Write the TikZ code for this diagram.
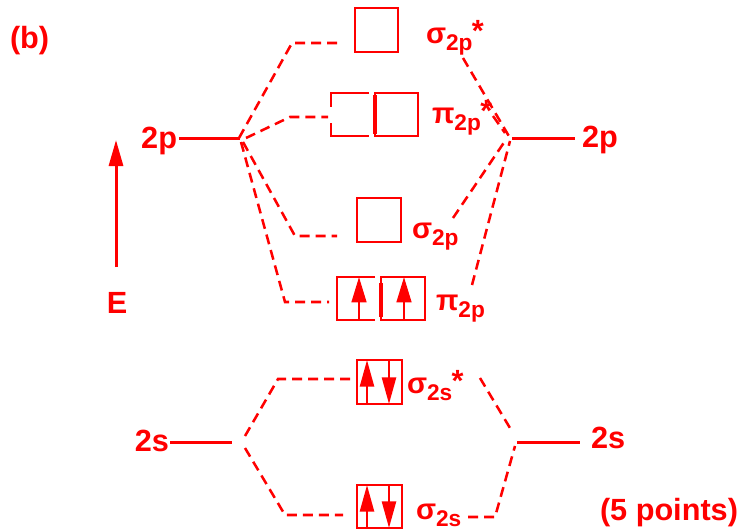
\documentclass[tikz,border=0pt]{standalone}
\usepackage{fontspec}
\setmainfont{Liberation Sans}
\usetikzlibrary{arrows.meta}
\newcommand\molab[2]{{\fontsize{22}{22}\selectfont #1}\raisebox{-5.25pt}{\fontsize{17}{17}\selectfont #2}}
\newcommand\ostar{\kern-0.5pt\raisebox{1.5pt}{\fontsize{23}{23}\selectfont *}}
\begin{document}
\begin{tikzpicture}[x=0.75pt,y=-0.75pt,
  every node/.style={font=\bfseries, text=red, inner sep=0pt, outer sep=0pt},
  big/.style={font=\bfseries\fontsize{23}{23}\selectfont},
  level/.style={draw=red, line width=2.25pt},
  corr/.style={draw=red, line width=1.9pt, dash pattern=on 7.5pt off 4.5pt},
  orbox/.style={draw=red, line width=2pt},
  spin/.style={draw=red, line width=1.9pt, -{Triangle[width=11pt,length=19pt]}},
  spinb/.style={draw=red, line width=1.9pt, -{Triangle[width=10.5pt,length=20pt]}},
]
\useasboundingbox (0,0) rectangle (748,529);

% texts
\node[big, anchor=base west] (lb) at (10,48) {(b)};
\node[big, anchor=base] (lE) at (117,313) {E};
\node[big, anchor=base east] (l2p) at (177,148) {2p};
\node[big, anchor=base west] (r2p) at (582,147) {2p};
\node[big, anchor=base east] (l2s) at (169,451) {2s};
\node[big, anchor=base west] (r2s) at (591,448) {2s};
\node[big, anchor=base west] (pts) at (600,520) {(5 points)};

\node[anchor=base west] (ts2pstar) at (426,43) {\molab{σ}{2p}\ostar};
\node[anchor=base west] (tp2pstar) at (432,123) {\molab{π}{2p}\ostar};
\node[anchor=base west] (ts2p) at (412,238) {\molab{σ}{2p}};
\node[anchor=base west] (tp2p) at (436,310) {\molab{π}{2p}};
\node[anchor=base west] (ts2sstar) at (407,393) {\molab{σ}{2s}\ostar};
\node[anchor=base west] (ts2s) at (416,519) {\molab{σ}{2s}};

% energy arrow
\coordinate (Eb) at (116,267);
\coordinate (Et) at (116,140);
\draw[draw=red, line width=2.25pt, -{Triangle[width=10.5pt,length=19.5pt]}] (Eb) -- (Et);

% atomic levels
\coordinate (L2pa) at (179,138); \coordinate (L2pb) at (240,138);
\coordinate (R2pa) at (512,138); \coordinate (R2pb) at (575,138);
\coordinate (L2sa) at (170,442); \coordinate (L2sb) at (232,442);
\coordinate (R2sa) at (517,442); \coordinate (R2sb) at (580,442);
\draw[level] (L2pa) -- (L2pb);
\draw[level] (R2pa) -- (R2pb);
\draw[level] (L2sa) -- (L2sb);
\draw[level] (R2sa) -- (R2sb);

% boxes
\draw[orbox] (355,8) rectangle (398,52);
\draw[orbox] (369,93) -- (331,93) -- (331,107);
\draw[orbox] (331,123) -- (331,136) -- (369,136);
\draw[orbox] (375,93) rectangle (418,136);
\draw[draw=red, line width=3pt] (374.5,95) -- (374.5,134);
\draw[orbox] (357,198) rectangle (401,242);
\draw[orbox] (375,277) -- (337,277) -- (337,320) -- (375,320);
\draw[orbox] (381,277) rectangle (425,320);
\draw[draw=red, line width=3pt] (380.5,283) -- (380.5,317);
\draw[spin] (359,320) -- (359,277);
\draw[spin] (404,320) -- (404,277);
\draw[orbox] (357,360) rectangle (402,404);
\draw[spinb] (367,404) -- (367,360);
\draw[spinb] (389,360) -- (389,404);
\draw[orbox] (357,485) rectangle (402,528);
\draw[spinb] (367,528) -- (367,485);
\draw[spinb] (389,485) -- (389,528);

% correlation lines, left 2p
\draw[corr] (239,138) -- (292,43) -- (337,43);
\draw[corr] (246,138) -- (290,117) -- (328,117);
\draw[corr] (243,142) -- (295,236) -- (337,236);
\draw[corr] (241,142) -- (285,302) -- (329,302);
% right 2p
\draw[corr] (463,58) -- (510,138);
\draw[corr] (493,116) -- (505,133);
\draw[corr] (453,218) -- (505,141);
\draw[corr] (472,285) -- (510,141);
% left 2s
\draw[corr] (245,436) -- (278,379) -- (352,379);
\draw[corr] (245,448) -- (285,515) -- (343,515);
% right 2s
\draw[corr] (480,378) -- (510,428);
\draw[corr] (468,517) -- (495,517) -- (515,446);
\end{tikzpicture}
\end{document}
